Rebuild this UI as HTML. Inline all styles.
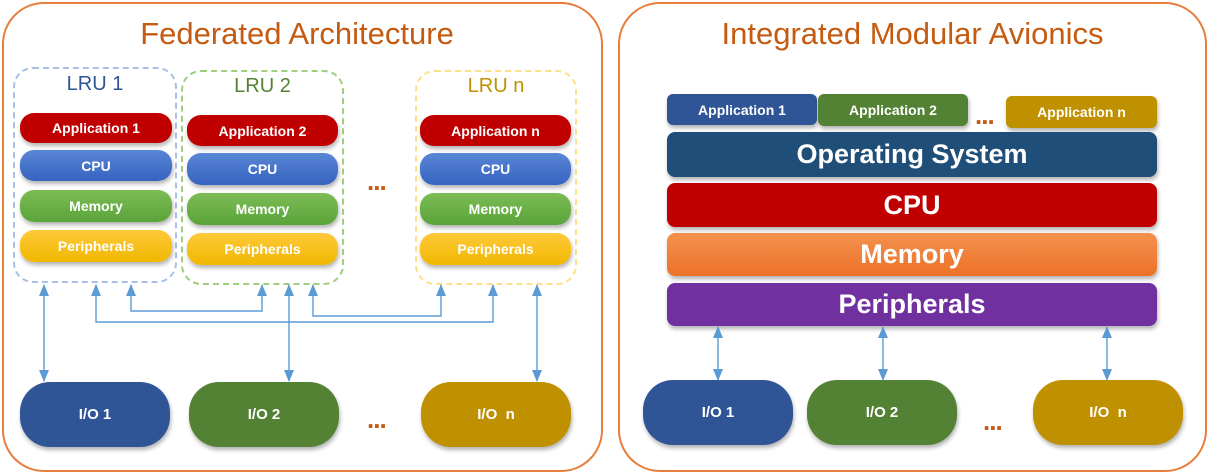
<!DOCTYPE html><html><head><style>
body{margin:0;width:1210px;height:475px;background:#fff;position:relative;overflow:hidden;font-family:"Liberation Sans",sans-serif}
.a{position:absolute;box-sizing:border-box}
.p{border:2px solid #e67e3c;border-radius:42px}
.t{color:#c55a11;font-size:31px;text-align:center}
.d{border:2px dashed;border-radius:20px}
.b{color:#fff;font-weight:bold;text-align:center;border-radius:14px;box-shadow:1px 3px 4px rgba(0,0,0,.3);display:flex;align-items:center;justify-content:center;font-size:14px}
.r{background:#c00000}.c{background:linear-gradient(#5a86d6,#3563c0)}.m{background:linear-gradient(#7cbc55,#5aa43a)}.y{background:linear-gradient(#ffc93a,#f0b800)}
.io{border-radius:30px;font-size:15px}
.dots{color:#c55a11;font-weight:bold;font-size:26px;letter-spacing:-1px}
.big{font-size:27px;border-radius:8px}
</style></head><body>
<div class="a p" style="left:2px;top:2px;width:601px;height:470px"></div>
<div class="a p" style="left:618px;top:2px;width:589px;height:470px"></div>
<div class="a t" style="left:2px;top:16px;width:590px">Federated Architecture</div>
<div class="a t" style="left:618px;top:16px;width:589px">Integrated Modular Avionics</div>

<div class="a d" style="left:13px;top:67px;width:164px;height:216px;border-color:#a9c0e6"></div>
<div class="a d" style="left:181px;top:70px;width:163px;height:215px;border-color:#9fce7e"></div>
<div class="a d" style="left:415px;top:70px;width:162px;height:215px;border-color:#ffe08a"></div>
<div class="a" style="left:13px;top:73px;width:164px;text-align:center;font-size:20px;color:#2f5597">LRU 1</div>
<div class="a" style="left:181px;top:75px;width:163px;text-align:center;font-size:20px;color:#548235">LRU 2</div>
<div class="a" style="left:415px;top:75px;width:162px;text-align:center;font-size:20px;color:#bf9000">LRU n</div>

<div class="a b r" style="left:20px;top:113px;width:152px;height:30px">Application 1</div>
<div class="a b c" style="left:20px;top:150px;width:152px;height:31px">CPU</div>
<div class="a b m" style="left:20px;top:190px;width:152px;height:32px">Memory</div>
<div class="a b y" style="left:20px;top:230px;width:152px;height:32px">Peripherals</div>
<div class="a b r" style="left:187px;top:115px;width:151px;height:31px">Application 2</div>
<div class="a b c" style="left:187px;top:153px;width:151px;height:32px">CPU</div>
<div class="a b m" style="left:187px;top:193px;width:151px;height:32px">Memory</div>
<div class="a b y" style="left:187px;top:233px;width:151px;height:32px">Peripherals</div>
<div class="a b r" style="left:420px;top:115px;width:151px;height:31px">Application n</div>
<div class="a b c" style="left:420px;top:153px;width:151px;height:32px">CPU</div>
<div class="a b m" style="left:420px;top:193px;width:151px;height:32px">Memory</div>
<div class="a b y" style="left:420px;top:233px;width:151px;height:32px">Peripherals</div>
<div class="a dots" style="left:367px;top:166px">...</div>

<div class="a b io" style="left:20px;top:382px;width:150px;height:65px;background:#2f5597">I/O 1</div>
<div class="a b io" style="left:189px;top:382px;width:150px;height:65px;background:#548235">I/O 2</div>
<div class="a b io" style="left:421px;top:382px;width:150px;height:65px;background:#bf9000">I/O &nbsp;n</div>
<div class="a dots" style="left:367px;top:404px">...</div>

<div class="a b" style="left:667px;top:94px;width:150px;height:31px;background:#2f5597;border-radius:6px">Application 1</div>
<div class="a b" style="left:818px;top:94px;width:150px;height:32px;background:#548235;border-radius:6px">Application 2</div>
<div class="a b" style="left:1006px;top:96px;width:151px;height:32px;background:#bf9000;border-radius:6px">Application n</div>
<div class="a dots" style="left:975px;top:100px">...</div>
<div class="a b big" style="left:667px;top:132px;width:490px;height:45px;background:#1f4e79">Operating System</div>
<div class="a b big" style="left:667px;top:183px;width:490px;height:44px;background:#c00000">CPU</div>
<div class="a b big" style="left:667px;top:233px;width:490px;height:43px;background:linear-gradient(#f4914e,#ec7228)">Memory</div>
<div class="a b big" style="left:667px;top:283px;width:490px;height:43px;background:#7030a0">Peripherals</div>
<div class="a b io" style="left:643px;top:380px;width:150px;height:65px;background:#2f5597">I/O 1</div>
<div class="a b io" style="left:807px;top:380px;width:150px;height:65px;background:#548235">I/O 2</div>
<div class="a b io" style="left:1033px;top:380px;width:150px;height:65px;background:#bf9000">I/O &nbsp;n</div>
<div class="a dots" style="left:983px;top:406px">...</div>

<svg class="a" style="left:0;top:0" width="1210" height="475">
<defs><marker id="h" markerWidth="12" markerHeight="10" refX="11" refY="5" orient="auto-start-reverse" markerUnits="userSpaceOnUse"><path d="M0,0L12,5L0,10z" fill="#5b9bd5"/></marker></defs>
<g stroke="#5b9bd5" stroke-width="1.4" fill="none">
<line x1="44" y1="381" x2="44" y2="285" marker-start="url(#h)" marker-end="url(#h)"/>
<line x1="289" y1="381" x2="289" y2="285" marker-start="url(#h)" marker-end="url(#h)"/>
<line x1="537" y1="381" x2="537" y2="285" marker-start="url(#h)" marker-end="url(#h)"/>
<polyline points="96,285 96,322 493,322 493,285" marker-start="url(#h)" marker-end="url(#h)"/>
<polyline points="131,285 131,311 262,311 262,285" marker-start="url(#h)" marker-end="url(#h)"/>
<polyline points="313,285 313,316 441,316 441,285" marker-start="url(#h)" marker-end="url(#h)"/>
<line x1="718" y1="380" x2="718" y2="327" marker-start="url(#h)" marker-end="url(#h)"/>
<line x1="883" y1="380" x2="883" y2="327" marker-start="url(#h)" marker-end="url(#h)"/>
<line x1="1107" y1="380" x2="1107" y2="327" marker-start="url(#h)" marker-end="url(#h)"/>
</g></svg>
</body></html>
